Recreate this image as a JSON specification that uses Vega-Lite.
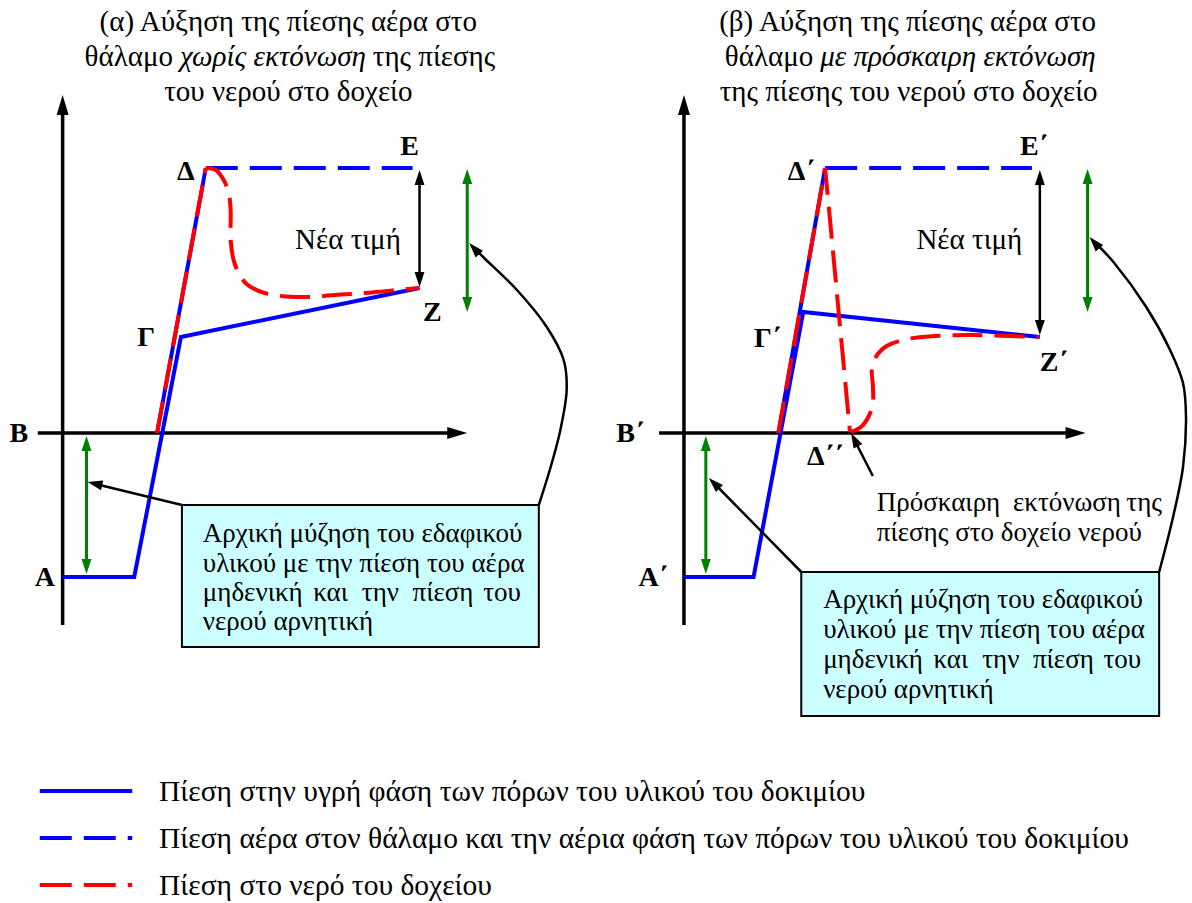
{
  "$schema": "https://vega.github.io/schema/vega-lite/v6.json",
  "width": 1192,
  "height": 903,
  "autosize": {"type": "fit", "contains": "padding"},
  "padding": 0,
  "background": "white",
  "config": {"view": {"stroke": null}, "font": "'Liberation Serif', 'Times New Roman', 'DejaVu Serif', serif"},
  "datasets": {
    "paths": [
      {"kind": "axis", "id": "ax-a-v", "seq": 1, "x": 63, "y": 625},
      {"kind": "axis", "id": "ax-a-v", "seq": 2, "x": 63, "y": 112},
      {"kind": "axis", "id": "ax-a-h", "seq": 1, "x": 38, "y": 433},
      {"kind": "axis", "id": "ax-a-h", "seq": 2, "x": 455, "y": 433},
      {"kind": "axis", "id": "ax-b-v", "seq": 1, "x": 688, "y": 625},
      {"kind": "axis", "id": "ax-b-v", "seq": 2, "x": 688, "y": 112},
      {"kind": "axis", "id": "ax-b-h", "seq": 1, "x": 663, "y": 433},
      {"kind": "axis", "id": "ax-b-h", "seq": 2, "x": 1075, "y": 433},

      {"kind": "liquid", "id": "liq-a", "seq": 1, "x": 63, "y": 577},
      {"kind": "liquid", "id": "liq-a", "seq": 2, "x": 135, "y": 577},
      {"kind": "liquid", "id": "liq-a", "seq": 3, "x": 182, "y": 337},
      {"kind": "liquid", "id": "liq-a", "seq": 4, "x": 422, "y": 288},
      {"kind": "liquid", "id": "liq-b", "seq": 1, "x": 688, "y": 577},
      {"kind": "liquid", "id": "liq-b", "seq": 2, "x": 758, "y": 577},
      {"kind": "liquid", "id": "liq-b", "seq": 3, "x": 808, "y": 312},
      {"kind": "liquid", "id": "liq-b", "seq": 4, "x": 1046, "y": 337},

      {"kind": "airUnder", "id": "au-a", "seq": 1, "x": 158, "y": 433},
      {"kind": "airUnder", "id": "au-a", "seq": 2, "x": 207, "y": 168},
      {"kind": "airUnder", "id": "au-b", "seq": 1, "x": 783, "y": 433},
      {"kind": "airUnder", "id": "au-b", "seq": 2, "x": 830, "y": 168},

      {"kind": "air", "id": "air-a", "seq": 1, "x": 207, "y": 168},
      {"kind": "air", "id": "air-a", "seq": 2, "x": 415, "y": 168},
      {"kind": "air", "id": "air-b", "seq": 1, "x": 830, "y": 168},
      {"kind": "air", "id": "air-b", "seq": 2, "x": 1038, "y": 168},

      {"kind": "waterLine", "id": "wl-a", "seq": 1, "x": 158, "y": 433},
      {"kind": "waterLine", "id": "wl-a", "seq": 2, "x": 207, "y": 168},
      {"kind": "waterLine", "id": "wl-b", "seq": 1, "x": 783, "y": 433},
      {"kind": "waterLine", "id": "wl-b", "seq": 2, "x": 830, "y": 168},
      {"kind": "waterLine", "id": "wl-b", "seq": 3, "x": 855, "y": 432},

      {"kind": "waterCurve", "id": "wc-a", "seq": 1, "x": 207, "y": 168},
      {"kind": "waterCurve", "id": "wc-a", "seq": 2, "x": 217, "y": 170},
      {"kind": "waterCurve", "id": "wc-a", "seq": 3, "x": 225, "y": 180},
      {"kind": "waterCurve", "id": "wc-a", "seq": 4, "x": 230, "y": 193},
      {"kind": "waterCurve", "id": "wc-a", "seq": 5, "x": 232, "y": 210},
      {"kind": "waterCurve", "id": "wc-a", "seq": 6, "x": 232, "y": 240},
      {"kind": "waterCurve", "id": "wc-a", "seq": 7, "x": 235, "y": 260},
      {"kind": "waterCurve", "id": "wc-a", "seq": 8, "x": 240, "y": 273},
      {"kind": "waterCurve", "id": "wc-a", "seq": 9, "x": 248, "y": 284},
      {"kind": "waterCurve", "id": "wc-a", "seq": 10, "x": 263, "y": 292},
      {"kind": "waterCurve", "id": "wc-a", "seq": 11, "x": 283, "y": 296},
      {"kind": "waterCurve", "id": "wc-a", "seq": 12, "x": 310, "y": 297},
      {"kind": "waterCurve", "id": "wc-a", "seq": 13, "x": 337, "y": 295},
      {"kind": "waterCurve", "id": "wc-a", "seq": 14, "x": 367, "y": 293},
      {"kind": "waterCurve", "id": "wc-a", "seq": 15, "x": 410, "y": 289},
      {"kind": "waterCurve", "id": "wc-a", "seq": 16, "x": 422, "y": 288},
      {"kind": "waterCurve", "id": "wc-b", "seq": 1, "x": 856, "y": 432},
      {"kind": "waterCurve", "id": "wc-b", "seq": 2, "x": 866, "y": 427},
      {"kind": "waterCurve", "id": "wc-b", "seq": 3, "x": 874, "y": 416},
      {"kind": "waterCurve", "id": "wc-b", "seq": 4, "x": 878, "y": 403},
      {"kind": "waterCurve", "id": "wc-b", "seq": 5, "x": 878, "y": 385},
      {"kind": "waterCurve", "id": "wc-b", "seq": 6, "x": 877, "y": 370},
      {"kind": "waterCurve", "id": "wc-b", "seq": 7, "x": 881, "y": 357},
      {"kind": "waterCurve", "id": "wc-b", "seq": 8, "x": 892, "y": 346},
      {"kind": "waterCurve", "id": "wc-b", "seq": 9, "x": 913, "y": 339},
      {"kind": "waterCurve", "id": "wc-b", "seq": 10, "x": 940, "y": 336},
      {"kind": "waterCurve", "id": "wc-b", "seq": 11, "x": 977, "y": 335},
      {"kind": "waterCurve", "id": "wc-b", "seq": 12, "x": 1045, "y": 337},

      {"kind": "range", "id": "rg-a", "seq": 1, "x": 422, "y": 180},
      {"kind": "range", "id": "rg-a", "seq": 2, "x": 422, "y": 277},
      {"kind": "range", "id": "rg-b", "seq": 1, "x": 1046, "y": 180},
      {"kind": "range", "id": "rg-b", "seq": 2, "x": 1046, "y": 325},
      {"kind": "range", "id": "pt-a", "seq": 1, "x": 183, "y": 505},
      {"kind": "range", "id": "pt-a", "seq": 2, "x": 96, "y": 484},
      {"kind": "range", "id": "pt-b", "seq": 1, "x": 806, "y": 572},
      {"kind": "range", "id": "pt-b", "seq": 2, "x": 719, "y": 484},
      {"kind": "range", "id": "pt-c", "seq": 1, "x": 878, "y": 476},
      {"kind": "range", "id": "pt-c", "seq": 2, "x": 860, "y": 441},

      {"kind": "pointerCurve", "id": "pc-a", "seq": 1, "x": 542, "y": 505},
      {"kind": "pointerCurve", "id": "pc-a", "seq": 2, "x": 553, "y": 470},
      {"kind": "pointerCurve", "id": "pc-a", "seq": 3, "x": 563, "y": 433},
      {"kind": "pointerCurve", "id": "pc-a", "seq": 4, "x": 570, "y": 390},
      {"kind": "pointerCurve", "id": "pc-a", "seq": 5, "x": 567, "y": 360},
      {"kind": "pointerCurve", "id": "pc-a", "seq": 6, "x": 550, "y": 327},
      {"kind": "pointerCurve", "id": "pc-a", "seq": 7, "x": 520, "y": 290},
      {"kind": "pointerCurve", "id": "pc-a", "seq": 8, "x": 487, "y": 258},
      {"kind": "pointerCurve", "id": "pc-a", "seq": 9, "x": 478, "y": 249},
      {"kind": "pointerCurve", "id": "pc-b", "seq": 1, "x": 1166, "y": 572},
      {"kind": "pointerCurve", "id": "pc-b", "seq": 2, "x": 1180, "y": 517},
      {"kind": "pointerCurve", "id": "pc-b", "seq": 3, "x": 1190, "y": 467},
      {"kind": "pointerCurve", "id": "pc-b", "seq": 4, "x": 1193, "y": 417},
      {"kind": "pointerCurve", "id": "pc-b", "seq": 5, "x": 1190, "y": 383},
      {"kind": "pointerCurve", "id": "pc-b", "seq": 6, "x": 1177, "y": 350},
      {"kind": "pointerCurve", "id": "pc-b", "seq": 7, "x": 1153, "y": 307},
      {"kind": "pointerCurve", "id": "pc-b", "seq": 8, "x": 1120, "y": 262},
      {"kind": "pointerCurve", "id": "pc-b", "seq": 9, "x": 1102, "y": 243},

      {"kind": "rangeGreen", "id": "gr-a1", "seq": 1, "x": 470, "y": 180},
      {"kind": "rangeGreen", "id": "gr-a1", "seq": 2, "x": 470, "y": 301},
      {"kind": "rangeGreen", "id": "gr-b1", "seq": 1, "x": 1094, "y": 180},
      {"kind": "rangeGreen", "id": "gr-b1", "seq": 2, "x": 1094, "y": 301},
      {"kind": "rangeGreen", "id": "gr-a2", "seq": 1, "x": 87, "y": 446},
      {"kind": "rangeGreen", "id": "gr-a2", "seq": 2, "x": 87, "y": 564},
      {"kind": "rangeGreen", "id": "gr-b2", "seq": 1, "x": 710, "y": 446},
      {"kind": "rangeGreen", "id": "gr-b2", "seq": 2, "x": 710, "y": 564},

      {"kind": "liquid", "id": "lg-liquid", "seq": 1, "x": 40, "y": 791},
      {"kind": "liquid", "id": "lg-liquid", "seq": 2, "x": 133, "y": 791},
      {"kind": "air", "id": "lg-air", "seq": 1, "x": 40, "y": 838},
      {"kind": "air", "id": "lg-air", "seq": 2, "x": 133, "y": 838},
      {"kind": "waterLine", "id": "lg-water", "seq": 1, "x": 40, "y": 885},
      {"kind": "waterLine", "id": "lg-water", "seq": 2, "x": 133, "y": 885}
    ],
    "heads": [
      {"kind": "axis", "x": 63, "y": 95, "angle": 0},
      {"kind": "axis", "x": 470, "y": 433, "angle": 90},
      {"kind": "axis", "x": 688, "y": 95, "angle": 0},
      {"kind": "axis", "x": 1092, "y": 433, "angle": 90},
      {"kind": "black", "x": 422, "y": 170, "angle": 0},
      {"kind": "black", "x": 422, "y": 287, "angle": 180},
      {"kind": "black", "x": 1046, "y": 170, "angle": 0},
      {"kind": "black", "x": 1046, "y": 335, "angle": 180},
      {"kind": "black", "x": 88, "y": 482, "angle": 283},
      {"kind": "black", "x": 713, "y": 478, "angle": 315},
      {"kind": "black", "x": 856, "y": 433, "angle": 332},
      {"kind": "black", "x": 472, "y": 243, "angle": 318},
      {"kind": "black", "x": 1096, "y": 237, "angle": 319},
      {"kind": "green", "x": 470, "y": 169, "angle": 0},
      {"kind": "green", "x": 470, "y": 312, "angle": 180},
      {"kind": "green", "x": 1094, "y": 169, "angle": 0},
      {"kind": "green", "x": 1094, "y": 312, "angle": 180},
      {"kind": "green", "x": 87, "y": 436, "angle": 0},
      {"kind": "green", "x": 87, "y": 574, "angle": 180},
      {"kind": "green", "x": 710, "y": 436, "angle": 0},
      {"kind": "green", "x": 710, "y": 574, "angle": 180}
    ],
    "boxes": [
      {"x": 183, "x2": 542, "y": 505, "y2": 647},
      {"x": 806, "x2": 1166, "y": 572, "y2": 716}
    ],
    "texts": [
      {"role": "point", "x": 19, "y": 434, "text": "Β"},
      {"role": "point", "x": 45, "y": 578, "text": "Α"},
      {"role": "point", "x": 147, "y": 338, "text": "Γ"},
      {"role": "point", "x": 187, "y": 172, "text": "Δ"},
      {"role": "point", "x": 412, "y": 147, "text": "Ε"},
      {"role": "point", "x": 435, "y": 313, "text": "Ζ"},
      {"role": "point", "x": 634, "y": 434, "text": "Β΄"},
      {"role": "point", "x": 657, "y": 578, "text": "Α΄"},
      {"role": "point", "x": 772, "y": 339, "text": "Γ΄"},
      {"role": "point", "x": 806, "y": 172, "text": "Δ΄"},
      {"role": "point", "x": 1040, "y": 147, "text": "Ε΄"},
      {"role": "point", "x": 1060, "y": 363, "text": "Ζ΄"},
      {"role": "point", "x": 830, "y": 457, "text": "Δ΄΄"},

      {"role": "note", "x": 350, "y": 240, "text": "Νέα τιμή"},
      {"role": "note", "x": 975, "y": 240, "text": "Νέα τιμή"},

      {"role": "title", "x": 290, "y": 22, "text": "(α) Αύξηση της πίεσης αέρα στο"},
      {"role": "title", "x": 290, "y": 92, "text": "του νερού στο δοχείο"},
      {"role": "title", "x": 913, "y": 22, "text": "(β) Αύξηση της πίεσης αέρα στο"},
      {"role": "title", "x": 914, "y": 92, "text": "της πίεσης του νερού στο δοχείο"},
      {"role": "titleEnd", "x": 174, "y": 57, "text": "θάλαμο"},
      {"role": "titleItalic", "x": 181, "y": 57, "text": "χωρίς εκτόνωση"},
      {"role": "titleStart", "x": 375, "y": 57, "text": "της πίεσης"},
      {"role": "titleEnd", "x": 818, "y": 57, "text": "θάλαμο"},
      {"role": "titleItalic", "x": 825, "y": 57, "text": "με πρόσκαιρη εκτόνωση"},

      {"role": "body", "x": 204, "y": 534, "text": "Αρχική μύζηση του εδαφικού"},
      {"role": "body", "x": 204, "y": 564, "text": "υλικού με την πίεση του αέρα"},
      {"role": "body", "x": 204, "y": 593, "text": "μηδενική"},
      {"role": "body", "x": 315, "y": 593, "text": "και"},
      {"role": "body", "x": 364, "y": 593, "text": "την"},
      {"role": "body", "x": 415, "y": 593, "text": "πίεση"},
      {"role": "body", "x": 486, "y": 593, "text": "του"},
      {"role": "body", "x": 204, "y": 622, "text": "νερού αρνητική"},

      {"role": "body", "x": 828, "y": 600, "text": "Αρχική μύζηση του εδαφικού"},
      {"role": "body", "x": 828, "y": 630, "text": "υλικού με την πίεση του αέρα"},
      {"role": "body", "x": 828, "y": 660, "text": "μηδενική"},
      {"role": "body", "x": 939, "y": 660, "text": "και"},
      {"role": "body", "x": 988, "y": 660, "text": "την"},
      {"role": "body", "x": 1039, "y": 660, "text": "πίεση"},
      {"role": "body", "x": 1110, "y": 660, "text": "του"},
      {"role": "body", "x": 828, "y": 690, "text": "νερού αρνητική"},

      {"role": "body", "x": 882, "y": 503, "text": "Πρόσκαιρη"},
      {"role": "body", "x": 1019, "y": 503, "text": "εκτόνωση"},
      {"role": "body", "x": 1133, "y": 503, "text": "της"},
      {"role": "body", "x": 882, "y": 533, "text": "πίεσης στο δοχείο νερού"},

      {"role": "legend", "x": 160, "y": 792, "text": "Πίεση στην υγρή φάση των πόρων του υλικού του δοκιμίου"},
      {"role": "legend", "x": 160, "y": 839, "text": "Πίεση αέρα στον θάλαμο και την αέρια φάση των πόρων του υλικού του δοκιμίου"},
      {"role": "legend", "x": 160, "y": 886, "text": "Πίεση στο νερό του δοχείου"}
    ]
  },
  "encoding": {
    "x": {"field": "x", "type": "quantitative", "scale": {"domain": [0, 1192], "nice": false, "zero": false}, "axis": null},
    "y": {"field": "y", "type": "quantitative", "scale": {"domain": [903, 0], "nice": false, "zero": false}, "axis": null}
  },
  "layer": [
    {
      "data": {"name": "boxes"},
      "mark": {"type": "rect", "fill": "#ccffff", "stroke": "black", "strokeWidth": 2},
      "encoding": {"x2": {"field": "x2"}, "y2": {"field": "y2"}}
    },
    {
      "data": {"name": "paths"},
      "transform": [{"filter": {"field": "kind", "oneOf": ["axis"]}}],
      "mark": {"type": "line", "color": "black", "strokeWidth": 3.5},
      "encoding": {"detail": {"field": "id"}, "order": {"field": "seq"}}
    },
    {
      "data": {"name": "paths"},
      "transform": [{"filter": {"field": "kind", "oneOf": ["liquid", "airUnder"]}}],
      "mark": {"type": "line", "color": "#0000ff", "strokeWidth": 4},
      "encoding": {"detail": {"field": "id"}, "order": {"field": "seq"}}
    },
    {
      "data": {"name": "paths"},
      "transform": [{"filter": {"field": "kind", "oneOf": ["air"]}}],
      "mark": {"type": "line", "color": "#0000ff", "strokeWidth": 4, "strokeDash": [32, 12]},
      "encoding": {"detail": {"field": "id"}, "order": {"field": "seq"}}
    },
    {
      "data": {"name": "paths"},
      "transform": [{"filter": {"field": "kind", "oneOf": ["waterLine"]}}],
      "mark": {"type": "line", "color": "#ff0000", "strokeWidth": 4, "strokeDash": [32, 12]},
      "encoding": {"detail": {"field": "id"}, "order": {"field": "seq"}}
    },
    {
      "data": {"name": "paths"},
      "transform": [{"filter": {"field": "kind", "oneOf": ["waterCurve"]}}],
      "mark": {"type": "line", "color": "#ff0000", "strokeWidth": 4, "strokeDash": [30, 12], "interpolate": "catmull-rom"},
      "encoding": {"detail": {"field": "id"}, "order": {"field": "seq"}}
    },
    {
      "data": {"name": "paths"},
      "transform": [{"filter": {"field": "kind", "oneOf": ["range"]}}],
      "mark": {"type": "line", "color": "black", "strokeWidth": 2.5},
      "encoding": {"detail": {"field": "id"}, "order": {"field": "seq"}}
    },
    {
      "data": {"name": "paths"},
      "transform": [{"filter": {"field": "kind", "oneOf": ["pointerCurve"]}}],
      "mark": {"type": "line", "color": "black", "strokeWidth": 2.5, "interpolate": "catmull-rom"},
      "encoding": {"detail": {"field": "id"}, "order": {"field": "seq"}}
    },
    {
      "data": {"name": "paths"},
      "transform": [{"filter": {"field": "kind", "oneOf": ["rangeGreen"]}}],
      "mark": {"type": "line", "color": "#008000", "strokeWidth": 3},
      "encoding": {"detail": {"field": "id"}, "order": {"field": "seq"}}
    },
    {
      "data": {"name": "heads"},
      "transform": [{"filter": {"field": "kind", "equal": "axis"}}],
      "mark": {"type": "point", "shape": "M0,0L0.3,1L-0.3,1Z", "filled": true, "size": 1600, "color": "black", "opacity": 1, "strokeWidth": 0},
      "encoding": {"angle": {"field": "angle", "type": "quantitative", "scale": null}}
    },
    {
      "data": {"name": "heads"},
      "transform": [{"filter": {"field": "kind", "equal": "black"}}],
      "mark": {"type": "point", "shape": "M0,0L0.33,1L-0.33,1Z", "filled": true, "size": 900, "color": "black", "opacity": 1, "strokeWidth": 0},
      "encoding": {"angle": {"field": "angle", "type": "quantitative", "scale": null}}
    },
    {
      "data": {"name": "heads"},
      "transform": [{"filter": {"field": "kind", "equal": "green"}}],
      "mark": {"type": "point", "shape": "M0,0L0.33,1L-0.33,1Z", "filled": true, "size": 900, "color": "#008000", "opacity": 1, "strokeWidth": 0},
      "encoding": {"angle": {"field": "angle", "type": "quantitative", "scale": null}}
    },
    {
      "data": {"name": "texts"},
      "transform": [{"filter": {"field": "role", "equal": "point"}}],
      "mark": {"type": "text", "fontWeight": "bold", "fontSize": 28, "align": "center", "baseline": "middle", "color": "black"},
      "encoding": {"text": {"field": "text"}}
    },
    {
      "data": {"name": "texts"},
      "transform": [{"filter": {"field": "role", "equal": "note"}}],
      "mark": {"type": "text", "fontSize": 29, "align": "center", "baseline": "middle", "color": "black"},
      "encoding": {"text": {"field": "text"}}
    },
    {
      "data": {"name": "texts"},
      "transform": [{"filter": {"field": "role", "equal": "title"}}],
      "mark": {"type": "text", "fontSize": 29, "align": "center", "baseline": "middle", "color": "black"},
      "encoding": {"text": {"field": "text"}}
    },
    {
      "data": {"name": "texts"},
      "transform": [{"filter": {"field": "role", "equal": "titleEnd"}}],
      "mark": {"type": "text", "fontSize": 29, "align": "right", "baseline": "middle", "color": "black"},
      "encoding": {"text": {"field": "text"}}
    },
    {
      "data": {"name": "texts"},
      "transform": [{"filter": {"field": "role", "equal": "titleStart"}}],
      "mark": {"type": "text", "fontSize": 29, "align": "left", "baseline": "middle", "color": "black"},
      "encoding": {"text": {"field": "text"}}
    },
    {
      "data": {"name": "texts"},
      "transform": [{"filter": {"field": "role", "equal": "titleItalic"}}],
      "mark": {"type": "text", "fontStyle": "italic", "fontSize": 29, "align": "left", "baseline": "middle", "color": "black"},
      "encoding": {"text": {"field": "text"}}
    },
    {
      "data": {"name": "texts"},
      "transform": [{"filter": {"field": "role", "equal": "body"}}],
      "mark": {"type": "text", "fontSize": 27, "align": "left", "baseline": "middle", "color": "black"},
      "encoding": {"text": {"field": "text"}}
    },
    {
      "data": {"name": "texts"},
      "transform": [{"filter": {"field": "role", "equal": "legend"}}],
      "mark": {"type": "text", "fontSize": 29.5, "align": "left", "baseline": "middle", "color": "black"},
      "encoding": {"text": {"field": "text"}}
    }
  ]
}
